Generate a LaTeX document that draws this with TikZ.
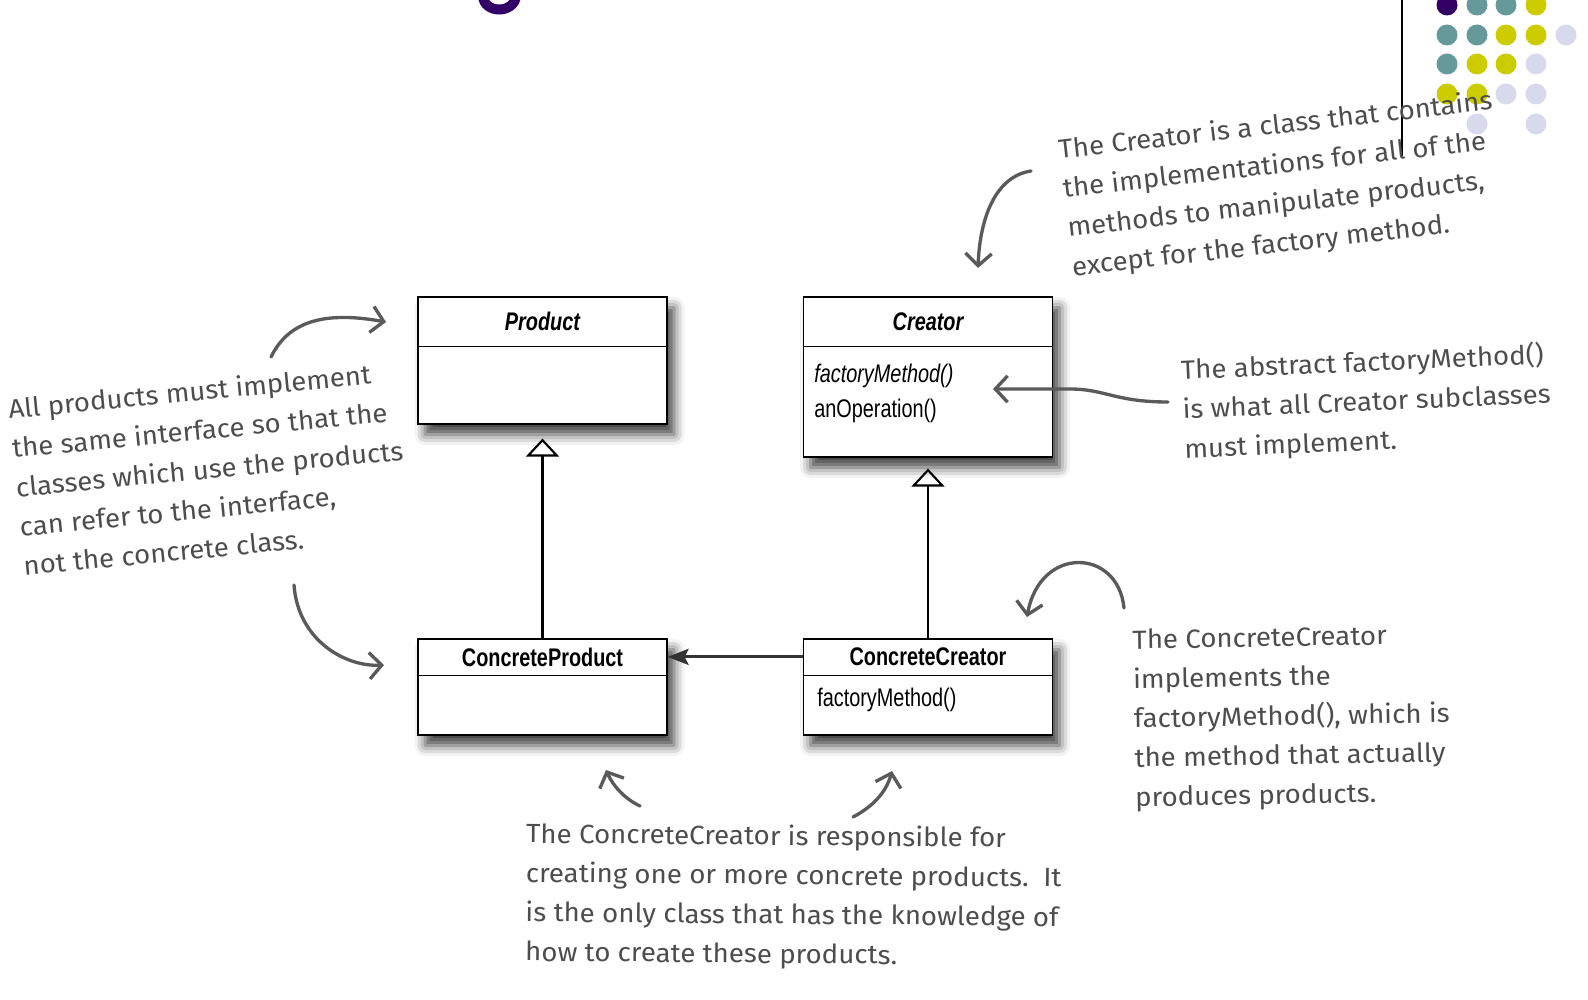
\documentclass[tikz,border=0pt]{standalone}
\usepackage{fontspec}
\usetikzlibrary{arrows.meta,shadows.blur,positioning}
\newfontfamily\umlfont[FakeStretch=0.78]{Liberation Sans}
\newfontfamily\handfont[FakeStretch=1.05]{Fira Sans}
\definecolor{notegray}{HTML}{4D4D4D}
\definecolor{handgray}{HTML}{5A5A5A}
\definecolor{linkgray}{HTML}{333333}
\definecolor{dotpurple}{HTML}{330066}
\definecolor{dotteal}{HTML}{669999}
\definecolor{dotyellow}{HTML}{CCCC00}
\definecolor{dotlilac}{HTML}{D9D9EE}
\tikzset{
  classbox/.style={draw, line width=0.7pt, fill=white, minimum width=4.98cm, inner sep=0pt,
    blur shadow={shadow xshift=4pt, shadow yshift=-6pt, shadow blur radius=6pt, shadow opacity=75}},
  classname/.style={font=\umlfont\bfseries\fontsize{14.5}{17}\selectfont, inner sep=0pt},
  classop/.style={font=\umlfont\fontsize{14.5}{17}\selectfont, anchor=west, inner sep=0pt},
  inherit/.style={line width=1.4pt, -{Triangle[open, length=0.36cm, width=0.66cm, line width=1.2pt]}},
  assoc/.style={draw=linkgray, line width=1.8pt, -{Stealth[length=0.42cm, width=0.32cm, inset=0.08cm]}},
  note/.style={anchor=north west, align=left, inner sep=0pt, text=notegray,
    font=\handfont\fontsize{15}{22.4}\selectfont},
  hand/.style={draw=handgray, line width=1.9pt, line cap=round, line join=round,
    -{Straight Barb[length=7pt, width=15pt, line width=1.9pt]}}
}

\begin{document}
\begin{tikzpicture}[x=0.02cm, y=-0.02cm]
    \useasboundingbox (0,0) rectangle (1588,1000);
    \clip (0,0) rectangle (1588,1000);
    \draw[dotpurple, line width=0.2cm] (483,-4) .. controls (484,14) and (514,14) .. (516,-4);
    \foreach \x/\y/\c in {1447/5/dotpurple, 1477/5/dotteal, 1506/5/dotteal, 1536/5/dotyellow,
        1447/35/dotteal, 1477/35/dotteal, 1506/35/dotyellow, 1536/35/dotyellow, 1566/35/dotlilac,
        1447/64/dotteal, 1477/64/dotyellow, 1506/64/dotyellow, 1536/64/dotlilac,
        1447/94/dotyellow, 1477/94/dotyellow, 1506/94/dotlilac, 1536/94/dotlilac,
        1477/124/dotlilac, 1536/124/dotlilac}
      \fill[\c] (\x,\y) circle[radius=0.21cm];
    \draw[line width=0.8pt] (1402,0) -- (1402,156);

    \node[classbox, minimum height=2.54cm] (product) at (542.5,360.5) {};
    \node[classbox, minimum height=3.2cm] (creator) at (928,377) {};
    \node[classbox, minimum height=1.92cm] (cprod) at (542.5,687) {};
    \node[classbox, minimum height=1.92cm] (ccreator) at (928,687) {};

    \draw ([yshift=-1cm]product.north west) -- ([yshift=-1cm]product.north east);
    \draw ([yshift=-1cm]creator.north west) -- ([yshift=-1cm]creator.north east);
    \draw ([yshift=-0.74cm]cprod.north west) -- ([yshift=-0.74cm]cprod.north east);
    \draw ([yshift=-0.74cm]ccreator.north west) -- ([yshift=-0.74cm]ccreator.north east);

    \node[classname] (product-name) at ([yshift=-0.5cm]product.north) {\itshape Product};
    \node[classname] (creator-name) at ([yshift=-0.5cm]creator.north) {\itshape Creator};
    \node[classname] (cprod-name) at ([yshift=-0.37cm]cprod.north) {ConcreteProduct};
    \node[classname] (ccreator-name) at ([yshift=-0.37cm]ccreator.north) {ConcreteCreator};
    \node[classop] (creator-fm) at ([xshift=0.22cm, yshift=-1.6cm]creator.north west) {\itshape factoryMethod()};
    \node[classop] (creator-op) at ([xshift=0.22cm, yshift=-2.3cm]creator.north west) {anOperation()};
    \node[classop] (ccreator-fm) at ([xshift=0.28cm, yshift=-1.24cm]ccreator.north west) {factoryMethod()};

    \draw[inherit, shorten >=0.28cm] (cprod) -- (product);
    \draw[inherit, shorten >=0.22cm] (ccreator) -- (creator);
    \draw[assoc] ([yshift=-0.37cm]ccreator.north west) -- ([yshift=-0.37cm]cprod.north east);

    \node[note, rotate=6.5] (crnote) at (1057,138) {The Creator is a class that contains\\the implementations for all of the\\methods to manipulate products,\\except for the factory method.};
    \node[note, rotate=2.5] (absnote) at (1180,357) {The abstract factoryMethod()\\is what all Creator subclasses\\must implement.};
    \node[note, rotate=5.5] (prodnote) at (7,398) {All products must implement\\the same interface so that the\\classes which use the products\\can refer to the interface,\\not the concrete class.};
    \node[note, rotate=1] (ccnote) at (1132,629) {The ConcreteCreator\\implements the\\factoryMethod(), which is\\the method that actually\\produces products.};
    \node[note, rotate=-0.5] (respnote) at (526,822) {The ConcreteCreator is responsible for\\creating one or more concrete products.\ \ It\\is the only class that has the knowledge of\\how to create these products.};

    \coordinate (crnote-tail) at (1031,171);
    \coordinate (crnote-head) at (978,268);
    \coordinate (absnote-tail) at (1168,402);
    \coordinate (absnote-head) at (993,389);
    \coordinate (prodnote-up) at (271,357);
    \coordinate (prodnote-uphead) at (386,322);
    \coordinate (prodnote-down) at (294,585);
    \coordinate (prodnote-downhead) at (384,665);
    \coordinate (ccnote-tail) at (1124,608);
    \coordinate (ccnote-head) at (1027,617);
    \coordinate (respnote-left) at (640,806);
    \coordinate (respnote-lefthead) at (606,770);
    \coordinate (respnote-right) at (853,817);
    \coordinate (respnote-righthead) at (892,771);

    \draw[hand] (crnote-tail) .. controls (997,176) and (980,215) .. (crnote-head);
    \draw[hand] (absnote-tail) .. controls (1115,402) and (1105,389) .. (1070,389) -- (absnote-head);
    \draw[hand] (prodnote-up) .. controls (290,318) and (330,312) .. (prodnote-uphead);
    \draw[hand] (prodnote-down) .. controls (298,640) and (345,667) .. (prodnote-downhead);
    \draw[hand] (ccnote-tail) .. controls (1118,548) and (1040,545) .. (ccnote-head);
    \draw[hand] (respnote-left) .. controls (625,799) and (613,786) .. (respnote-lefthead);
    \draw[hand] (respnote-right) .. controls (872,807) and (886,793) .. (respnote-righthead);
  \end{tikzpicture}
\end{document}
